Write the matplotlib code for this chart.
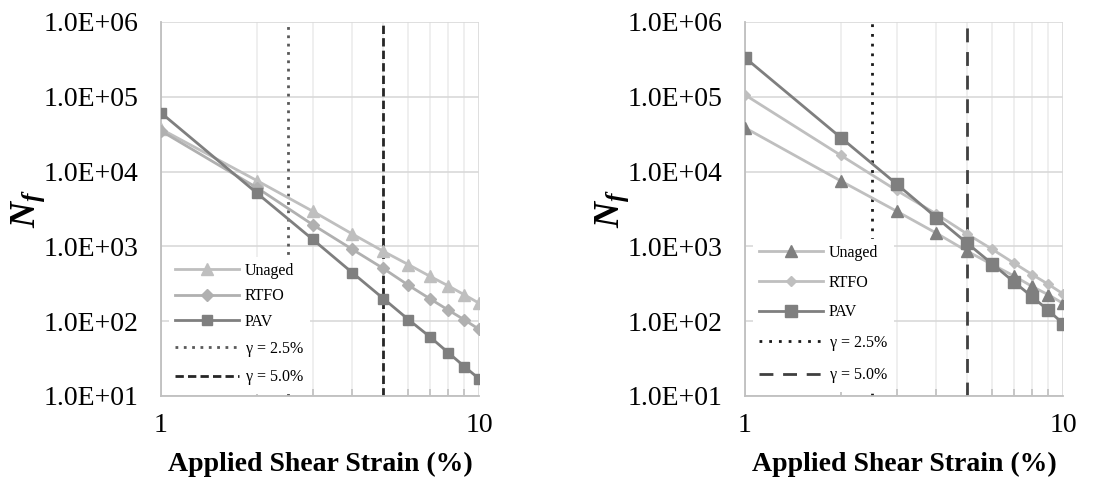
import numpy as np
import matplotlib
matplotlib.use('Agg')
import matplotlib.pyplot as plt
from matplotlib.ticker import FixedLocator, NullFormatter

plt.rcParams['font.family'] = ['Liberation Serif', 'DejaVu Serif']
plt.rcParams['mathtext.fontset'] = 'custom'
plt.rcParams['mathtext.it'] = 'Liberation Serif:italic:bold'
plt.rcParams['mathtext.rm'] = 'Liberation Serif'

# datos
strain = [1, 2, 3, 4, 5, 6, 7, 8, 9, 10]

unaged_a = [37000, 7600, 2950, 1460, 860, 570, 400, 297, 225, 174]
rtfo_a = [35000, 6100, 1950, 910, 507, 302, 200, 141, 104, 78]
pav_a = [61000, 5180, 1240, 443, 201, 105, 62, 38, 24.7, 17]

unaged_b = [38500, 7500, 2950, 1500, 860, 570, 404, 291, 225, 173]
rtfo_b = [106000, 16500, 5600, 2700, 1460, 910, 600, 420, 310, 232]
pav_b = [333000, 28500, 6800, 2420, 1100, 580, 336, 212, 139, 93]

gamma_lines = [2.5, 5.0]
y_ticks = [1e1, 1e2, 1e3, 1e4, 1e5, 1e6]
y_labels = ['1.0E+01', '1.0E+02', '1.0E+03', '1.0E+04', '1.0E+05', '1.0E+06']

fig = plt.figure(figsize=(11.19, 4.91), dpi=100)
ax1 = fig.add_axes([0.1439, 0.1935, 0.2842, 0.7617])
ax2 = fig.add_axes([0.6658, 0.1935, 0.2842, 0.7617])


def setup(ax):
    ax.set_xscale('log')
    ax.set_yscale('log')
    ax.set_xlim(1, 10)
    ax.set_ylim(1e1, 1e6)
    ax.set_yticks(y_ticks)
    ax.set_yticklabels(y_labels)
    ax.yaxis.set_minor_locator(FixedLocator([]))
    ax.set_xticks([1, 10])
    ax.set_xticklabels(['1', '10'])
    ax.xaxis.set_minor_locator(FixedLocator(strain[1:-1]))
    ax.xaxis.set_minor_formatter(NullFormatter())
    ax.grid(True, which='major', color='#d9d9d9', linewidth=1.2, zorder=0)
    ax.grid(True, which='minor', axis='x', color='#ececec', linewidth=1.2, zorder=0)
    for s in ['top', 'right']:
        ax.spines[s].set_visible(False)
    for s in ['left', 'bottom']:
        ax.spines[s].set_color('#bfbfbf')
        ax.spines[s].set_linewidth(1.3)
    ax.tick_params(axis='both', which='major', length=0, labelsize=20, pad=16)
    ax.tick_params(axis='x', which='major', pad=12)
    ax.tick_params(axis='x', which='minor', direction='in', length=5, color='#bfbfbf', width=1.2)
    ax.set_xlabel('Applied Shear Strain (%)', fontsize=20, fontweight='bold', labelpad=10)
    ax.set_ylabel(r'$N_f$', fontsize=26, labelpad=-2)


setup(ax1)
ax1.plot(strain, unaged_a, color='#bfbfbf', lw=2, marker='^', ms=8, label='Unaged', zorder=3)
ax1.plot(strain, rtfo_a, color='#b0b0b0', lw=2, marker='D', ms=6, label='RTFO', zorder=3)
ax1.plot(strain, pav_a, color='#7f7f7f', lw=2, marker='s', ms=7, label='PAV', zorder=4)
ax1.axvline(gamma_lines[0], color='#595959', lw=2, ls=(0, (1, 2)), label=r'$\mathrm{\gamma}$ = 2.5%', zorder=2)
ax1.axvline(gamma_lines[1], color='#262626', lw=2, ls=(0, (3, 1.5)), label=r'$\mathrm{\gamma}$ = 5.0%', zorder=2)
leg1 = ax1.legend(loc='lower left', bbox_to_anchor=(0.0, -0.015), fontsize=11.5, frameon=True,
                  handlelength=4.0, labelspacing=0.6, borderpad=0.4, handletextpad=0.35)
leg1.get_frame().set_facecolor('white')
leg1.get_frame().set_edgecolor('none')
leg1.get_frame().set_alpha(1)

setup(ax2)
ax2.plot(strain, unaged_b, color='#bfbfbf', lw=2, marker='^', ms=8, mfc='#7f7f7f', mec='#7f7f7f', label='Unaged', zorder=3)
ax2.plot(strain, rtfo_b, color='#bfbfbf', lw=2, marker='D', ms=5, mfc='#bfbfbf', mec='#bfbfbf', label='RTFO', zorder=3)
ax2.plot(strain, pav_b, color='#7f7f7f', lw=2, marker='s', ms=8, label='PAV', zorder=4)
ax2.axvline(gamma_lines[0], color='#1a1a1a', lw=2, ls=(0, (1, 2.5)), label=r'$\mathrm{\gamma}$ = 2.5%', zorder=2)
ax2.axvline(gamma_lines[1], color='#404040', lw=2, ls=(0, (5, 3.5)), label=r'$\mathrm{\gamma}$ = 5.0%', zorder=2)
leg2 = ax2.legend(loc='lower left', bbox_to_anchor=(0.0, -0.01), fontsize=11.5, frameon=True,
                  handlelength=4.0, labelspacing=0.85, borderpad=0.4, handletextpad=0.35)
leg2.get_frame().set_facecolor('white')
leg2.get_frame().set_edgecolor('none')
leg2.get_frame().set_alpha(1)

plt.savefig('out.png', dpi=100)
